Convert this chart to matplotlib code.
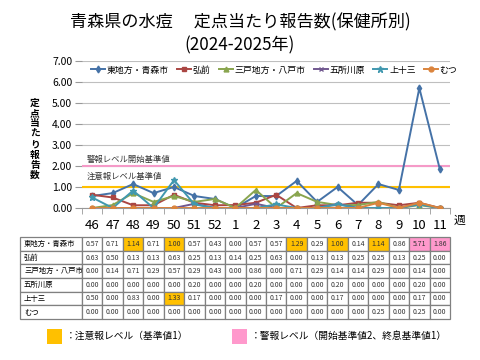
import numpy as np
import matplotlib.pyplot as plt
from matplotlib.patches import Rectangle

plt.rcParams['font.family'] = ['Noto Sans CJK JP', 'DejaVu Sans']

weeks = ["46", "47", "48", "49", "50", "51", "52", "1", "2", "3", "4", "5",
         "6", "7", "8", "9", "10", "11"]
regions = ["東地方・青森市", "弘前", "三戸地方・八戸市", "五所川原", "上十三", "むつ"]

aomori = [0.57, 0.71, 1.14, 0.71, 1.00, 0.57, 0.43, 0.00, 0.57, 0.57, 1.29, 0.29,
          1.00, 0.14, 1.14, 0.86, 5.71, 1.86]
hirosaki = [0.63, 0.50, 0.13, 0.13, 0.63, 0.25, 0.13, 0.14, 0.25, 0.63, 0.00, 0.13,
            0.13, 0.25, 0.25, 0.13, 0.25, 0.00]
hachinohe = [0.00, 0.14, 0.71, 0.29, 0.57, 0.29, 0.43, 0.00, 0.86, 0.00, 0.71, 0.29,
             0.14, 0.14, 0.29, 0.00, 0.14, 0.00]
goshogawara = [0.00, 0.00, 0.00, 0.00, 0.00, 0.20, 0.00, 0.00, 0.20, 0.00, 0.00, 0.00,
               0.20, 0.00, 0.00, 0.00, 0.20, 0.00]
kamitosa = [0.50, 0.00, 0.83, 0.00, 1.33, 0.17, 0.00, 0.00, 0.00, 0.17, 0.00, 0.00,
            0.17, 0.00, 0.00, 0.00, 0.17, 0.00]
mutsu = [0.00, 0.00, 0.00, 0.00, 0.00, 0.00, 0.00, 0.00, 0.00, 0.00, 0.00, 0.00,
         0.00, 0.00, 0.25, 0.00, 0.25, 0.00]

warn_level = 1.0
alarm_start = 2.0

series = [aomori, hirosaki, hachinohe, goshogawara, kamitosa, mutsu]
colors = ["#4572A7", "#AA4643", "#89A54E", "#71588F", "#4198AF", "#DB843D"]
markers = ["d", "s", "^", "x", "*", "o"]
msizes = [3.5, 3.5, 3.5, 3.5, 4.5, 3.5]

W, H = 480, 360
fig = plt.figure(figsize=(4.8, 3.6), dpi=100)

def fx(px):
    return px / W

def fy(py):
    return 1 - py / H

# タイトル
fig.text(0.5, fy(22), "青森県の水痘　 定点当たり報告数(保健所別)",
         ha="center", va="center", fontsize=12.3)
fig.text(0.5, fy(45), "(2024-2025年)", ha="center", va="center", fontsize=12.3)

# グラフ本体
ax = fig.add_axes([fx(82), fy(208), fx(450) - fx(82), fy(61) - fy(208)])
x = np.arange(len(weeks))
for vals, name, c, m, ms in zip(series, regions, colors, markers, msizes):
    ax.plot(x, vals, color=c, marker=m, markersize=ms, lw=1.4, label=name,
            markeredgewidth=1.0, zorder=3)

ax.axhline(alarm_start, color="#F59AC8", lw=1.5, zorder=2)
ax.axhline(warn_level, color="#FFC000", lw=1.5, zorder=2)
ax.text(-0.25, alarm_start + 0.1, "警報レベル開始基準値", fontsize=6, va="bottom", color="#333333")
ax.text(-0.25, warn_level + 0.3, "注意報レベル基準値", fontsize=6, va="bottom", color="#333333")

ax.set_xlim(-0.5, len(weeks) - 0.5)
ax.set_ylim(0, 7)
ax.set_yticks(np.arange(0, 8, 1))
ax.set_yticklabels([f"{v:.2f}" for v in np.arange(0, 8, 1)], fontsize=7.5)
ax.set_xticks(x)
ax.set_xticklabels(weeks, fontsize=9.5)
ax.set_xticks(np.arange(-0.5, len(weeks), 1), minor=True)
ax.tick_params(axis="x", which="major", length=0, pad=8)
ax.tick_params(axis="x", which="minor", length=4, color="#999999", direction="out")
ax.tick_params(axis="y", length=5, color="#999999", pad=2)
ax.grid(axis="y", color="#BFBFBF", lw=0.8, zorder=0)
for s in ["top", "right", "left"]:
    ax.spines[s].set_visible(False)
ax.spines["bottom"].set_color("#999999")
ax.set_axisbelow(True)

fig.text(fx(35), fy(139), "\n".join("定点当たり報告数"), ha="center", va="center",
         fontsize=7, fontweight="bold", linespacing=1.05)
fig.text(fx(459), fy(220), "週", ha="center", va="center", fontsize=8.5)

leg = fig.legend(*ax.get_legend_handles_labels(), loc="center",
                 bbox_to_anchor=(fx(274), fy(70)), ncol=6, frameon=False,
                 fontsize=6.4, handlelength=1.6, handletextpad=0.2,
                 columnspacing=0.9)

# 表
tab = fig.add_axes([fx(82), fy(319), fx(450) - fx(82), fy(237) - fy(319)])
tab.set_xlim(-0.5, len(weeks) - 0.5)
tab.set_ylim(len(regions), 0)
tab.axis("off")
lab_left = -0.5 - (82 - 20) / (368 / len(weeks))
for r, (name, vals) in enumerate(zip(regions, series)):
    tab.add_patch(Rectangle((lab_left, r), -0.5 - lab_left, 1, facecolor="white",
                            edgecolor="#808080", lw=0.9, clip_on=False))
    tab.text(lab_left + 0.2, r + 0.5, name, fontsize=5.3, va="center", ha="left",
             clip_on=False)
    alarm = False
    for i, v in enumerate(vals):
        if v >= alarm_start:
            alarm = True
        elif v < warn_level:
            alarm = False
        if alarm:
            fc = "#FF99CC"
        elif v >= warn_level:
            fc = "#FFC000"
        else:
            fc = "white"
        tab.add_patch(Rectangle((i - 0.5, r), 1, 1, facecolor=fc,
                                edgecolor="#808080", lw=0.9, clip_on=False))
        tab.text(i, r + 0.5, f"{v:.2f}", fontsize=5, ha="center", va="center",
                 color="#333333")

# 凡例（色）
fig.add_artist(Rectangle((fx(47), fy(344)), fx(15), 15 / H, facecolor="#FFC000",
                         edgecolor="none", transform=fig.transFigure))
fig.text(fx(66), fy(336), "：注意報レベル（基準値1）", fontsize=7, va="center")
fig.add_artist(Rectangle((fx(232), fy(344)), fx(15), 15 / H, facecolor="#FF99CC",
                         edgecolor="none", transform=fig.transFigure))
fig.text(fx(251), fy(336), "：警報レベル（開始基準値2、終息基準値1）", fontsize=7,
         va="center")

fig.savefig("out.png", dpi=100)
